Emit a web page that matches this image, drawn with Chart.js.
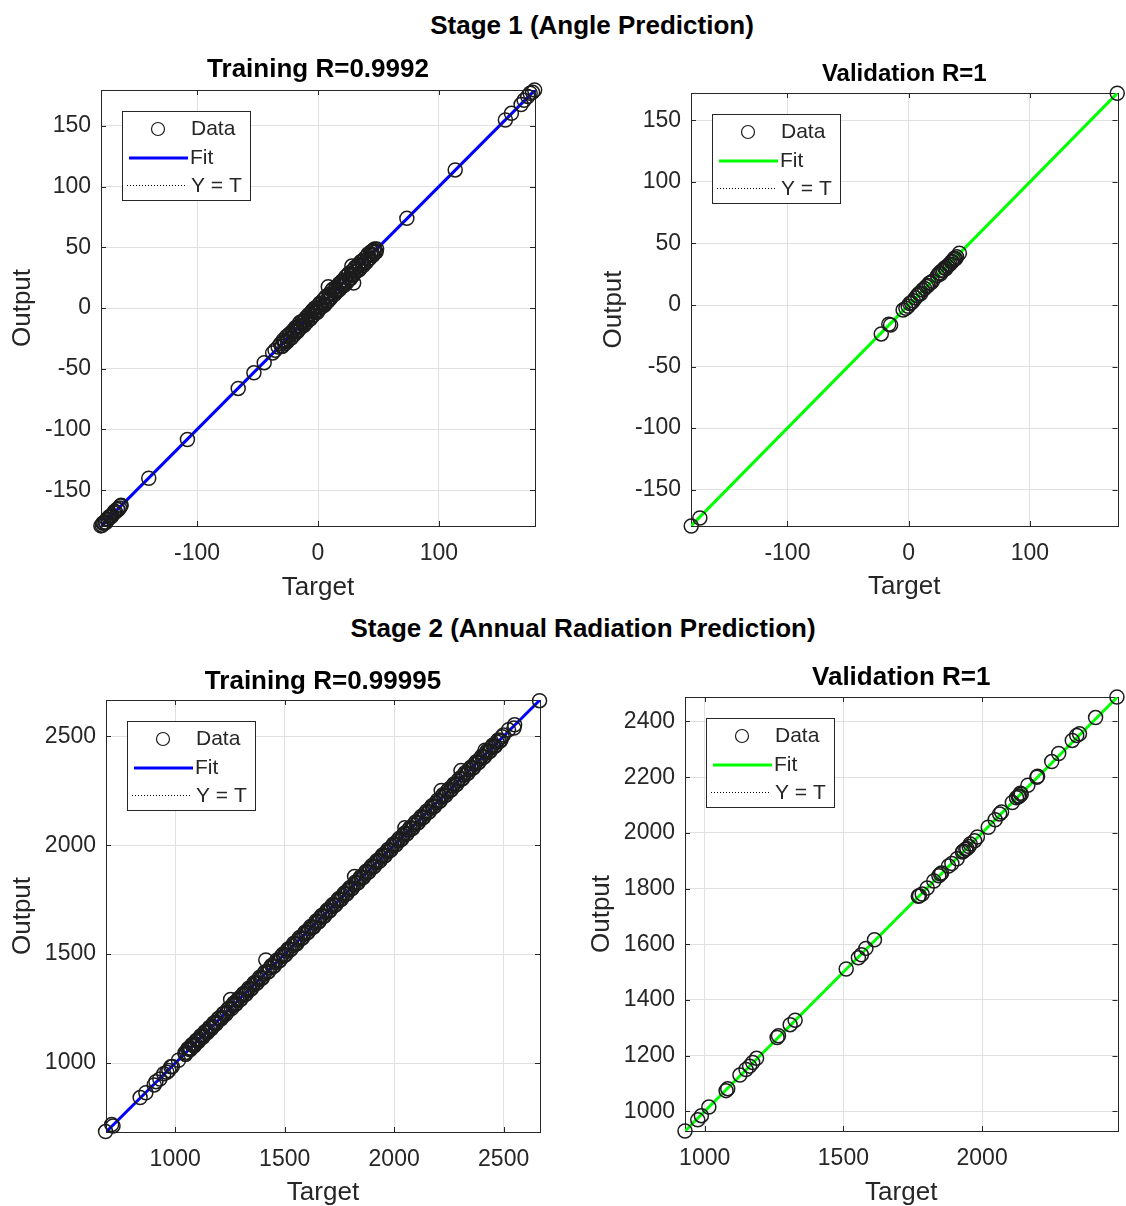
<!DOCTYPE html>
<html>
<head>
<meta charset="utf-8">
<title>Regression plots</title>
<script src="https://cdn.jsdelivr.net/npm/chart.js@4.4.1/dist/chart.umd.min.js"></script>
<style>
  html, body { margin: 0; padding: 0; background: #fff; overflow: hidden; }
  body { width: 1126px; height: 1206px; position: relative; font-family: "Liberation Sans", Arial, sans-serif; }
  .stage { position: absolute; font-weight: bold; font-size: 26px; color: #000; white-space: nowrap; transform: translate(-50%, -50%); }
  canvas { position: absolute; }
</style>
</head>
<body>
<div class="stage" style="left:592px; top:25px;">Stage 1 (Angle Prediction)</div>
<div class="stage" style="left:583px; top:628px;">Stage 2 (Annual Radiation Prediction)</div>
<canvas id="angleTrain" width="560" height="561" style="left:0; top:45px;"></canvas>
<canvas id="angleVal" width="546" height="561" style="left:580px; top:45px;"></canvas>
<canvas id="radTrain" width="560" height="553" style="left:0; top:655px;"></canvas>
<canvas id="radVal" width="546" height="553" style="left:580px; top:655px;"></canvas>
<script>
const FONT = '"Liberation Sans", Arial, sans-serif';
const INK = "#262626";
const GRID = "#e0e0e0";

const legendLabels = ["Data", "Fit", "Y = T"];

// Stage 1 - training (angle)
const angleTrainTarget = [
  -179.6, -178.5, -177.2, -176, -174.8, -173.5, -172, -170.6, -169, -167.5, -166, -164.2, -162.8,
  -178, -175.4, -173, -171.2, -168.2, -165.4, -163.5,
  -140, -108, -66, -53, -44.5, -37.5, -35.5, -33,
  -31, -29.5, -28, -27, -26, -24.5, -23, -22, -20.5, -19, -18, -16.5, -15, -14, -12.5, -11, -10,
  -8.5, -7, -6, -4.5, -3, -2, -0.5, 1, 2, 3.5, 5, 6, 7.5, 9, 10, 11.5, 13, 14, 15.5, 17, 18,
  19.5, 21, 22, 23.5, 25, 26, 27.5, 29, 30, 31.5, 33, 34, 35.5, 37, 38, 39.5, 41, 42, 43.5, 45,
  46, 47.5, 48.5,
  -30.2, -28.8, -27.4, -25.3, -23.8, -22.6, -21.2, -19.8, -18.6, -17.2, -15.8, -14.6, -13.2, -11.8,
  -10.5, -9.2, -7.8, -6.4, -5.2, -3.8, -2.6, -1.2, 0.2, 1.5, 2.8, 4.2, 5.5, 6.8, 8.2, 9.5, 10.8,
  12.2, 13.5, 14.8, 16.2, 17.5, 18.8, 20.2, 21.5, 22.8, 24.2, 25.5, 26.8, 28.2, 29.5, 30.8, 32.2,
  33.5, 34.8, 36.2, 37.5, 38.8, 40.2, 41.5, 42.8, 44.2, 45.5, 46.8, 48,
  8.5, 28, 29.5,
  73.5, 113.5, 155, 160, 168, 170.5, 173.5, 175.5, 177.5, 179.2
];
const angleTrainOutput = [
  -179.4, -178.8, -176.8, -176.5, -174.2, -173.9, -171.5, -171, -168.6, -167.9, -165.4, -164.6, -162.5,
  -177.3, -176.6, -172.2, -172, -167.3, -166.2, -163,
  -140.2, -108.3, -66.2, -53.4, -45, -37, -34.8, -32.2,
  -29.5, -31.5, -27.5, -28, -23.5, -26, -22, -24.5, -18.5, -19.5, -16.5, -18.5, -12, -15, -12, -13.5, -8,
  -10, -6, -8, -2, -3.5, -0.5, -3.5, 3, 1, 4, 3, 8.5, 6, 10, 7.5, 14.5, 12, 14.5, 13.5, 18.5, 15.5,
  21.5, 20, 23, 20.5, 27.5, 24.5, 28, 27, 32, 30.5, 34.5, 31.5, 38, 36.5, 39, 37.5, 43, 40.5, 44, 44,
  47.5, 46.5, 48.5,
  -31.8, -26.5, -29.5, -27.5, -21.5, -25, -19.5, -22, -16, -19.5, -15, -16.5, -11, -14.5,
  -10, -11.5, -5.5, -9, -3, -6, 0, -2.5, -1.5, 4, 0.5, 6.5, 2.5, 9.5, 5.5, 11.5, 9,
  15.5, 11, 17, 14, 20, 17.5, 22.5, 18.5, 25.5, 22, 28.5, 24, 30.5, 27.5, 33.5, 30.5,
  36, 33, 38.5, 35, 41, 38, 44.5, 41, 46.5, 43.5, 48.5, 46,
  17.5, 34.5, 20.5,
  73.8, 113.7, 154.8, 160.3, 167.5, 171, 174.2, 176.8, 177.6, 179.5
];
const angleTrainFitX = [-179.5, 179.5];
const angleTrainFitY = [-179.5, 179.5];

// Stage 1 - validation (angle)
const angleValTarget = [
  -179.3, -172.2, -22.6, -16.4, -14.9, -4.6, -2.3, -0.4, 0.9, 2.3, 3.8, 5.6, 7.2, 8.6, 9.8, 11.5,
  13.1, 14.6, 15.8, 17.0, 18.3, 19.6, 23.8, 25.2, 26.3, 27.4, 28.6, 29.7, 30.8, 31.9, 33.0, 34.1,
  35.2, 36.0, 36.9, 37.8, 38.6, 39.5, 41.8, 172.0
];
const angleValOutput = [
  -179.5, -173.0, -23.5, -15.6, -16.2, -4.1, -2.7, -1.0, 1.2, 1.9, 3.4, 5.8, 7.7, 9.3, 9.1, 12.2,
  13.4, 15.1, 15.9, 17.6, 18.1, 19.3, 23.9, 25.9, 25.4, 27.8, 28.2, 30.1, 29.6, 31.4, 32.6, 33.3,
  35.0, 35.4, 36.8, 37.9, 37.5, 39.2, 42.1, 172.0
];
const angleValFitX = [-179.5, 172.2];
const angleValFitY = [-179.5, 172.2];

// Stage 2 - training (annual radiation)
const radTrainTarget = [
  682, 710, 716, 840, 866, 904, 912, 930, 948, 962, 971, 980, 987, 1015, 1044, 1052, 1063, 1071,
  1080, 1092, 1101, 1112, 1120, 1131, 1140, 1152, 1160, 1171, 1179, 1190, 1203, 1215, 1224, 1238,
  1246, 1253, 1261, 1272, 1283, 1295, 1306, 1318, 1330, 1341, 1355, 1368, 1380, 1392, 1405, 1414,
  1420, 1433, 1446, 1458, 1471, 1485, 1497, 1510, 1522, 1535, 1548, 1561, 1574, 1588, 1600, 1613,
  1625, 1638, 1650, 1662, 1675, 1688, 1700, 1713, 1726, 1740, 1752, 1765, 1778, 1790, 1803, 1815,
  1819, 1828, 1841, 1853, 1866, 1878, 1890, 1903, 1916, 1928, 1941, 1953, 1966, 1978, 1991, 2003,
  2016, 2028, 2041, 2049, 2054, 2066, 2079, 2091, 2104, 2116, 2129, 2141, 2154, 2166, 2179, 2191,
  2204, 2215, 2217, 2229, 2242, 2254, 2267, 2279, 2292, 2305, 2306, 2318, 2331, 2343, 2356, 2368,
  2381, 2393, 2406, 2415, 2419, 2431, 2444, 2456, 2469, 2481, 2493, 2522, 2547, 2550, 2664,
  1047, 1058, 1068, 1076, 1086, 1096, 1106, 1116, 1126, 1136, 1146, 1156, 1166, 1176, 1186, 1197,
  1209, 1220, 1231, 1242, 1257, 1267, 1278, 1289, 1300, 1312, 1324, 1336, 1348, 1361, 1374, 1386,
  1398, 1410, 1427, 1440, 1452, 1465, 1478, 1491, 1504, 1516, 1529, 1542, 1555, 1568, 1581, 1594,
  1607, 1619, 1632, 1644, 1656, 1669, 1682, 1694, 1707, 1720, 1733, 1746, 1759, 1772, 1784, 1797,
  1809, 1822, 1835, 1847, 1860, 1872, 1884, 1897, 1910, 1922, 1935, 1947, 1960, 1972, 1985, 1997,
  2010, 2022, 2035, 2047, 2060, 2072, 2085, 2098, 2110, 2123, 2135, 2148, 2160, 2173, 2185, 2198,
  2210, 2223, 2236, 2248, 2261, 2273, 2286, 2298, 2312, 2325, 2337, 2350, 2362, 2375, 2387, 2400,
  2412, 2425, 2438, 2450, 2462, 2475, 2487, 2499
];
const radTrainOutput = [
  686, 718, 712, 842, 864, 900, 915, 927, 951, 958, 966, 983, 984, 1013, 1046, 1049, 1067, 1068,
  1083, 1088, 1104, 1109, 1125, 1128, 1143, 1148, 1165, 1168, 1183, 1186, 1207, 1211, 1228, 1234,
  1250, 1292, 1264, 1268, 1287, 1291, 1310, 1314, 1333, 1337, 1359, 1364, 1384, 1388, 1409, 1473,
  1417, 1437, 1442, 1462, 1467, 1489, 1493, 1514, 1518, 1539, 1544, 1565, 1570, 1592, 1596, 1617,
  1621, 1642, 1646, 1667, 1671, 1692, 1696, 1717, 1722, 1744, 1748, 1769, 1774, 1794, 1799, 1819,
  1856, 1824, 1845, 1849, 1870, 1874, 1894, 1899, 1920, 1924, 1945, 1949, 1970, 1974, 1995, 1999,
  2020, 2024, 2045, 2080, 2050, 2070, 2075, 2095, 2100, 2120, 2125, 2145, 2150, 2170, 2175, 2195,
  2200, 2251, 2221, 2225, 2246, 2250, 2271, 2275, 2296, 2342, 2302, 2322, 2327, 2347, 2352, 2372,
  2377, 2397, 2402, 2436, 2423, 2427, 2448, 2452, 2473, 2477, 2497, 2529, 2537, 2552, 2663,
  1040, 1066, 1061, 1084, 1079, 1104, 1099, 1124, 1119, 1144, 1139, 1164, 1159, 1184, 1179, 1205,
  1202, 1228, 1224, 1250, 1250, 1275, 1271, 1297, 1293, 1320, 1317, 1344, 1341, 1369, 1367, 1394,
  1391, 1418, 1420, 1448, 1445, 1473, 1471, 1499, 1497, 1524, 1522, 1550, 1548, 1576, 1574, 1602,
  1600, 1627, 1625, 1652, 1649, 1677, 1675, 1702, 1700, 1728, 1726, 1754, 1752, 1780, 1777, 1805,
  1802, 1830, 1828, 1855, 1853, 1880, 1877, 1905, 1903, 1930, 1928, 1955, 1953, 1980, 1978, 2005,
  2003, 2030, 2028, 2055, 2053, 2080, 2078, 2106, 2103, 2131, 2128, 2156, 2153, 2181, 2178, 2206,
  2203, 2231, 2229, 2256, 2254, 2281, 2279, 2306, 2305, 2333, 2330, 2358, 2355, 2383, 2380, 2408,
  2405, 2433, 2431, 2458, 2455, 2483, 2480, 2505
];
const radTrainFitX = [684, 2666];
const radTrainFitY = [684, 2666];

// Stage 2 - validation (annual radiation)
const radValTarget = [
  929, 975, 988, 1015, 1077, 1083, 1127, 1149, 1162, 1173, 1187, 1261, 1266, 1308, 1326, 1510,
  1554, 1565, 1581, 1612, 1770, 1774, 1784, 1802, 1826, 1844, 1850, 1854, 1879, 1891, 1910, 1929,
  1933, 1941, 1945, 1953, 1957, 1973, 1983, 2022, 2047, 2063, 2070, 2109, 2124, 2131, 2134, 2138,
  2141, 2165, 2197, 2200, 2251, 2276, 2325, 2341, 2351, 2409, 2486
];
const radValOutput = [
  929, 969, 984, 1015, 1074, 1081, 1130, 1150, 1162, 1175, 1190, 1265, 1271, 1311, 1327, 1511,
  1551, 1562, 1585, 1616, 1772, 1774, 1780, 1802, 1827, 1846, 1852, 1856, 1881, 1890, 1907, 1931,
  1935, 1941, 1944, 1951, 1960, 1972, 1985, 2020, 2047, 2068, 2075, 2109, 2126, 2130, 2132, 2142,
  2139, 2171, 2200, 2203, 2256, 2285, 2332, 2350, 2356, 2414, 2488
];
const radValFitX = [929, 2488];
const radValFitY = [929, 2488];

// tick labels
const angleYTicks = [-150, -100, -50, 0, 50, 100, 150];
const angleXTicks = [-100, 0, 100];
const radTrainTicks = [1000, 1500, 2000, 2500];
const radValYTicks = [1000, 1200, 1400, 1600, 1800, 2000, 2200, 2400];
const radValXTicks = [1000, 1500, 2000];

// axes box with inward tick marks, like MATLAB
const framePlugin = {
  id: "frame",
  beforeDatasetsDraw(chart) {
    const { ctx, chartArea: a, scales } = chart;
    ctx.save();
    ctx.strokeStyle = INK;
    ctx.lineWidth = 1;
    ctx.beginPath();
    scales.x.ticks.forEach(t => {
      const px = Math.round(scales.x.getPixelForValue(t.value)) + 0.5;
      ctx.moveTo(px, a.bottom); ctx.lineTo(px, a.bottom - 5);
      ctx.moveTo(px, a.top); ctx.lineTo(px, a.top + 5);
    });
    scales.y.ticks.forEach(t => {
      const py = Math.round(scales.y.getPixelForValue(t.value)) + 0.5;
      ctx.moveTo(a.left, py); ctx.lineTo(a.left + 5, py);
      ctx.moveTo(a.right, py); ctx.lineTo(a.right - 5, py);
    });
    ctx.stroke();
    ctx.strokeRect(Math.round(a.left) + 0.5, Math.round(a.top) + 0.5, Math.round(a.width), Math.round(a.height));
    ctx.restore();
  }
};

// boxed legend in the upper left corner of the axes
const boxLegend = {
  id: "boxLegend",
  afterDraw(chart) {
    const { ctx, chartArea: a } = chart;
    const sets = chart.data.datasets;
    const x0 = Math.round(a.left) + 21, y0 = Math.round(a.top) + 21;
    ctx.save();
    ctx.fillStyle = "#fff";
    ctx.fillRect(x0, y0, 128, 89);
    ctx.strokeStyle = INK;
    ctx.lineWidth = 1;
    ctx.strokeRect(x0 + 0.5, y0 + 0.5, 128, 89);

    // Data marker
    ctx.beginPath();
    ctx.arc(x0 + 36, y0 + 18, 6.5, 0, Math.PI * 2);
    ctx.strokeStyle = sets[0].pointBorderColor;
    ctx.lineWidth = 1.2;
    ctx.stroke();
    // Fit line
    ctx.beginPath();
    ctx.moveTo(x0 + 7, y0 + 47); ctx.lineTo(x0 + 66, y0 + 47);
    ctx.strokeStyle = sets[1].borderColor;
    ctx.lineWidth = sets[1].borderWidth;
    ctx.stroke();
    // Y = T line
    ctx.beginPath();
    ctx.setLineDash(sets[2].borderDash);
    ctx.moveTo(x0 + 5, y0 + 74.5); ctx.lineTo(x0 + 64, y0 + 74.5);
    ctx.strokeStyle = sets[2].borderColor;
    ctx.lineWidth = 1;
    ctx.stroke();
    ctx.setLineDash([]);

    ctx.fillStyle = INK;
    ctx.font = "21px " + FONT;
    ctx.textBaseline = "middle";
    ctx.fillText(sets[0].label, x0 + 69, y0 + 18);
    ctx.fillText(sets[1].label, x0 + 68, y0 + 47);
    ctx.fillText(sets[2].label, x0 + 69, y0 + 75);
    ctx.restore();
  }
};

function pairs(xs, ys) {
  return xs.map((x, i) => ({ x: x, y: ys[i] }));
}

function makePanel(id, p) {
  return new Chart(document.getElementById(id), {
    type: "scatter",
    data: {
      datasets: [
        {
          label: legendLabels[0],
          data: pairs(p.target, p.output),
          pointRadius: 7,
          pointBorderWidth: 1.5,
          pointBorderColor: "#1c1c1c",
          pointBackgroundColor: "rgba(0,0,0,0)",
          clip: false
        },
        {
          label: legendLabels[1],
          data: pairs(p.fitX, p.fitY),
          showLine: true,
          borderColor: p.color,
          borderWidth: 3,
          pointRadius: 0
        },
        {
          label: legendLabels[2],
          data: pairs(p.fitX, p.fitX),
          showLine: true,
          borderColor: "#000",
          borderWidth: 1,
          borderDash: [1, 2],
          pointRadius: 0
        }
      ]
    },
    options: {
      responsive: false,
      animation: false,
      devicePixelRatio: 1,
      layout: { padding: { left: 0, right: p.padRight, top: 0, bottom: 0 } },
      plugins: {
        legend: { display: false },
        tooltip: { enabled: false },
        title: {
          display: true,
          text: p.title,
          fullSize: false,
          color: "#000",
          font: { family: FONT, size: p.titleSize, weight: "bold", lineHeight: 1 },
          padding: { top: p.titleTop, bottom: p.titleBottom }
        }
      },
      scales: {
        x: {
          type: "linear",
          min: p.min,
          max: p.max,
          afterBuildTicks: s => { s.ticks = p.xTicks.map(v => ({ value: v })); },
          afterFit: s => { s.height = p.xAxisH; },
          grid: { color: GRID, drawTicks: false },
          border: { display: false },
          ticks: {
            color: INK, font: { family: FONT, size: 23 }, padding: 14, maxRotation: 0, autoSkip: false,
            callback: v => String(v)
          },
          title: {
            display: true, text: "Target", color: INK,
            font: { family: FONT, size: 26, lineHeight: 1.2 },
            padding: { top: 0, bottom: p.xTitlePad }
          }
        },
        y: {
          type: "linear",
          min: p.min,
          max: p.max,
          afterBuildTicks: s => { s.ticks = p.yTicks.map(v => ({ value: v })); },
          afterFit: s => { s.width = p.yAxisW; },
          grid: { color: GRID, drawTicks: false },
          border: { display: false },
          ticks: {
            color: INK, font: { family: FONT, size: 23 }, padding: 10, autoSkip: false,
            callback: v => String(v)
          },
          title: {
            display: true, text: "Output", color: INK,
            font: { family: FONT, size: 26, lineHeight: 1.2 },
            padding: { top: p.yTitlePad, bottom: 0 }
          }
        }
      }
    },
    plugins: [framePlugin, boxLegend]
  });
}

makePanel("angleTrain", {
  title: "Training R=0.9992", titleSize: 26, titleTop: 12, titleBottom: 7,
  target: angleTrainTarget, output: angleTrainOutput, fitX: angleTrainFitX, fitY: angleTrainFitY,
  color: "#0000ff", min: -179.5, max: 179.5, xTicks: angleXTicks, yTicks: angleYTicks,
  yAxisW: 101, xAxisH: 80, padRight: 25, yTitlePad: 7, xTitlePad: 3
});

makePanel("angleVal", {
  title: "Validation R=1", titleSize: 24, titleTop: 17, titleBottom: 7,
  target: angleValTarget, output: angleValOutput, fitX: angleValFitX, fitY: angleValFitY,
  color: "#00ff00", min: -179.5, max: 172.2, xTicks: angleXTicks, yTicks: angleYTicks,
  yAxisW: 111, xAxisH: 80, padRight: 2, yTitlePad: 18, xTitlePad: 4
});

makePanel("radTrain", {
  title: "Training R=0.99995", titleSize: 26, titleTop: 14, titleBottom: 5,
  target: radTrainTarget, output: radTrainOutput, fitX: radTrainFitX, fitY: radTrainFitY,
  color: "#0000ff", min: 684, max: 2666, xTicks: radTrainTicks, yTicks: radTrainTicks,
  yAxisW: 106, xAxisH: 76, padRight: 20, yTitlePad: 7, xTitlePad: 0
});

makePanel("radVal", {
  title: "Validation R=1", titleSize: 26, titleTop: 10, titleBottom: 6,
  target: radValTarget, output: radValOutput, fitX: radValFitX, fitY: radValFitY,
  color: "#00ff00", min: 929, max: 2488, xTicks: radValXTicks, yTicks: radValYTicks,
  yAxisW: 105, xAxisH: 77, padRight: 2, yTitlePad: 6, xTitlePad: 0
});
</script>
</body>
</html>
